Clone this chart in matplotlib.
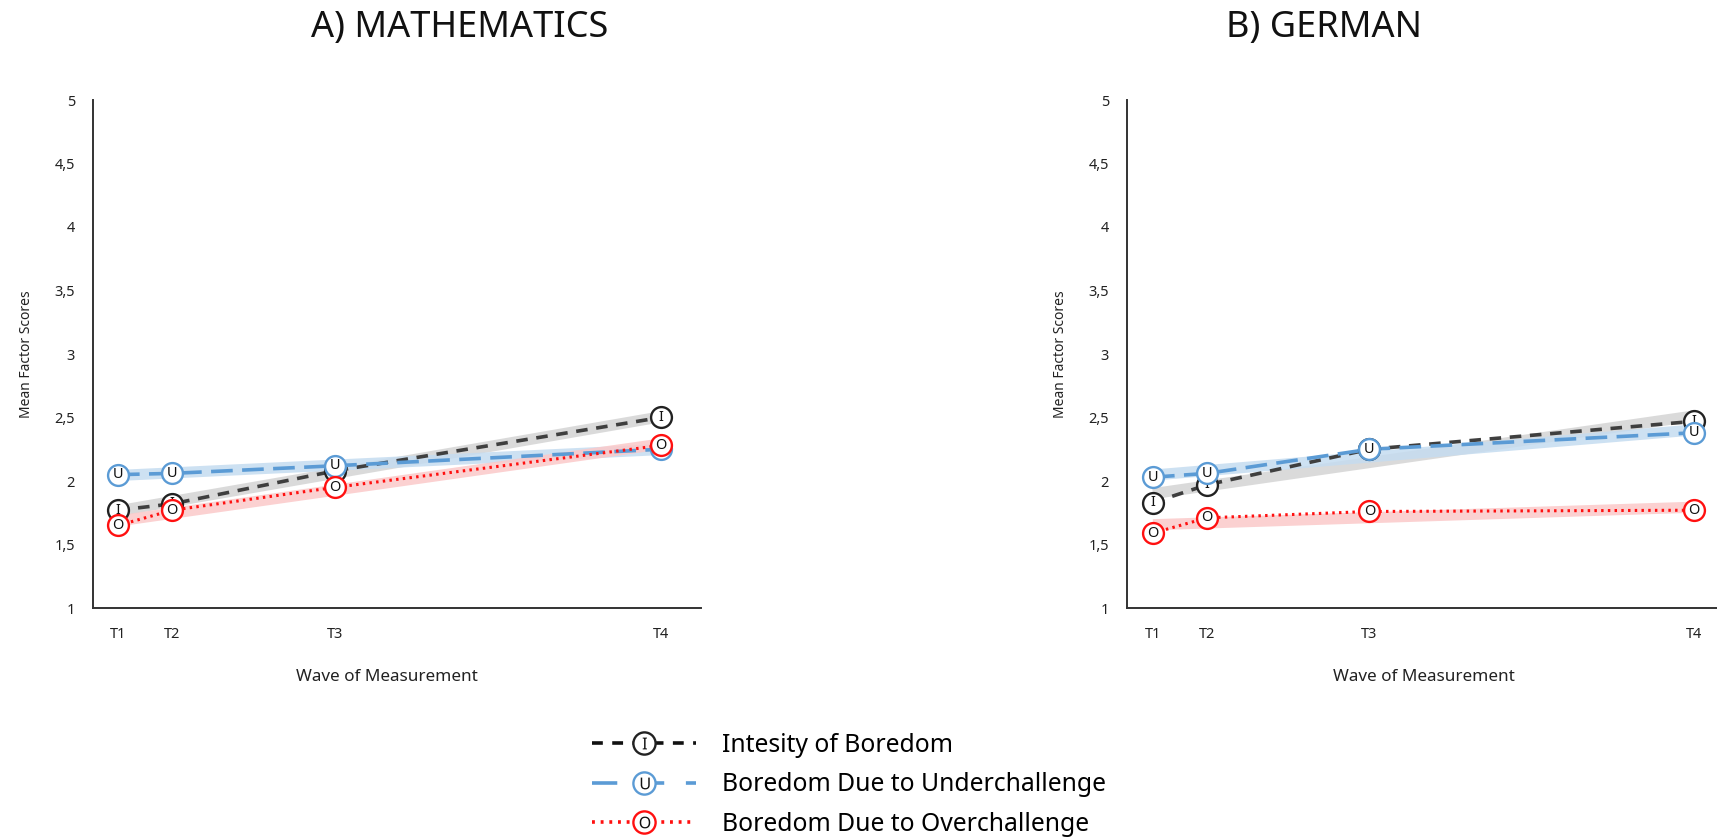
import numpy as np
import matplotlib
matplotlib.use("Agg")
import matplotlib.pyplot as plt
from matplotlib.lines import Line2D
from matplotlib.legend_handler import HandlerTuple
from matplotlib.textpath import TextPath
from matplotlib.font_manager import FontProperties
from matplotlib.path import Path

plt.rcParams['font.family'] = ['Noto Sans', 'DejaVu Sans']

# ---- data ----
waves = ["T1", "T2", "T3", "T4"]
wave_pos = [0, 1, 4, 10]          # relative timing of the four waves

math_intensity = [1.77, 1.82, 2.08, 2.50]
math_under = [2.05, 2.06, 2.12, 2.25]
math_over = [1.65, 1.77, 1.95, 2.28]

german_intensity = [1.83, 1.97, 2.25, 2.47]
german_under = [2.03, 2.06, 2.25, 2.38]
german_over = [1.59, 1.71, 1.76, 1.77]

y_ticks = [1, 1.5, 2, 2.5, 3, 3.5, 4, 4.5, 5]
y_ticklabels = ["1", "1,5", "2", "2,5", "3", "3,5", "4", "4,5", "5"]

series_labels = ["Intesity of Boredom", "Boredom Due to Underchallenge", "Boredom Due to Overchallenge"]
letters = ["I", "U", "O"]
panel_titles = ["A) MATHEMATICS", "B) GERMAN"]

# ---- styles ----
line_colors = ["#3f3f3f", "#5B9BD5", "#FF1010"]
legend_line_colors = ["#111111", "#5B9BD5", "#FF1010"]
band_colors = ["#d4d4d4", "#c5dcf0", "#fbc9c9"]
marker_edges = ["#222222", "#5B9BD5", "#FF1010"]
dash_styles = [(0, (3.2, 2.4)), (0, (6.0, 2.6)), (0, (0.8, 1.4))]
legend_dashes = [(0, (3.0, 2.6)), (0, (7.0, 6.0)), (0, (0.8, 1.6))]
line_widths = [2.6, 2.6, 2.2]


def letter_marker(ch):
    tp = TextPath((0, 0), ch, size=10, prop=FontProperties(family='Noto Sans', weight='bold'))
    v = tp.vertices.copy()
    c = (v.min(axis=0) + v.max(axis=0)) / 2
    return Path(v - c, tp.codes)


W, H = 1717, 838
fig = plt.figure(figsize=(W / 100, H / 100), dpi=100)

axes_px = [(93, 701, (-0.46, 10.74)), (1127, 1717, (-0.48, 10.42))]
y_top, y_bot = 100, 608
xlabel_centers = [387, 1424]

panels = [
    [math_intensity, math_under, math_over],
    [german_intensity, german_under, german_over],
]

x = np.array(wave_pos, dtype=float)
for (xl, xr, xlim), data, xc in zip(axes_px, panels, xlabel_centers):
    ax = fig.add_axes([xl / W, (H - y_bot) / H, (xr - xl) / W, (y_bot - y_top) / H])
    for i, vals in enumerate(data):
        v = np.array(vals)
        k, b = np.polyfit(x, v, 1)
        ax.plot([x[0], x[-1]], [k * x[0] + b, k * x[-1] + b], color=band_colors[i],
                lw=8, alpha=0.85, solid_capstyle='butt', zorder=1)
    for i, vals in enumerate(data):
        ax.plot(x, vals, color=line_colors[i], lw=line_widths[i], linestyle=dash_styles[i], zorder=3)
    for i, vals in enumerate(data):
        ax.plot(x, vals, ls='none', marker='o', ms=15, mfc='white', mec=marker_edges[i],
                mew=1.7, zorder=4 + 2 * i)
        for xi, yi in zip(x, vals):
            ax.text(xi, yi, letters[i], ha='center', va='center', fontsize=10.5,
                    color='#111111', fontweight='semibold', zorder=5 + 2 * i)
    ax.set_xlim(*xlim)
    ax.set_ylim(1, 5)
    ax.set_xticks(wave_pos)
    ax.set_xticklabels(waves)
    ax.set_yticks(y_ticks)
    ax.set_yticklabels(y_ticklabels)
    ax.tick_params(axis='both', length=0, labelsize=10.5, colors='#222222')
    ax.tick_params(axis='y', pad=13)
    ax.tick_params(axis='x', pad=14)
    for s in ['top', 'right']:
        ax.spines[s].set_visible(False)
    for s in ['left', 'bottom']:
        ax.spines[s].set_color('#333333')
        ax.spines[s].set_linewidth(1.4)
    ax.set_ylabel("Mean Factor Scores", fontsize=10, color='#222222')
    ax.yaxis.set_label_coords(-59 / (xr - xl), 0.5)
    ax.set_xlabel("Wave of Measurement", fontsize=12.3, color='#222222')
    ax.xaxis.set_label_coords((xc - xl) / (xr - xl), -(669 - y_bot) / (y_bot - y_top))

fig.text(460 / W, 1 - 28 / H, panel_titles[0], ha='center', va='center', fontsize=26, color='#111111')
fig.text(1324 / W, 1 - 28 / H, panel_titles[1], ha='center', va='center', fontsize=26, color='#111111')

handles = []
for i in range(3):
    ln = Line2D([], [], color=legend_line_colors[i], lw=2.6, linestyle=legend_dashes[i],
                marker='o', ms=16, mfc='white', mec=marker_edges[i], mew=1.7)
    lt = Line2D([], [], ls='none', marker=letter_marker(letters[i]), ms=8.5,
                color='#111111', mew=0)
    handles.append((ln, lt))

fig.legend(handles, series_labels, handler_map={tuple: HandlerTuple(ndivide=1, pad=0)},
           loc='upper left', bbox_to_anchor=(592 / W, 1 - 733 / H), frameon=False,
           fontsize=17.8, handlelength=4.2, handletextpad=1.05, labelspacing=0.58,
           borderpad=0, borderaxespad=0, numpoints=1)

fig.savefig("out.png", dpi=100)
